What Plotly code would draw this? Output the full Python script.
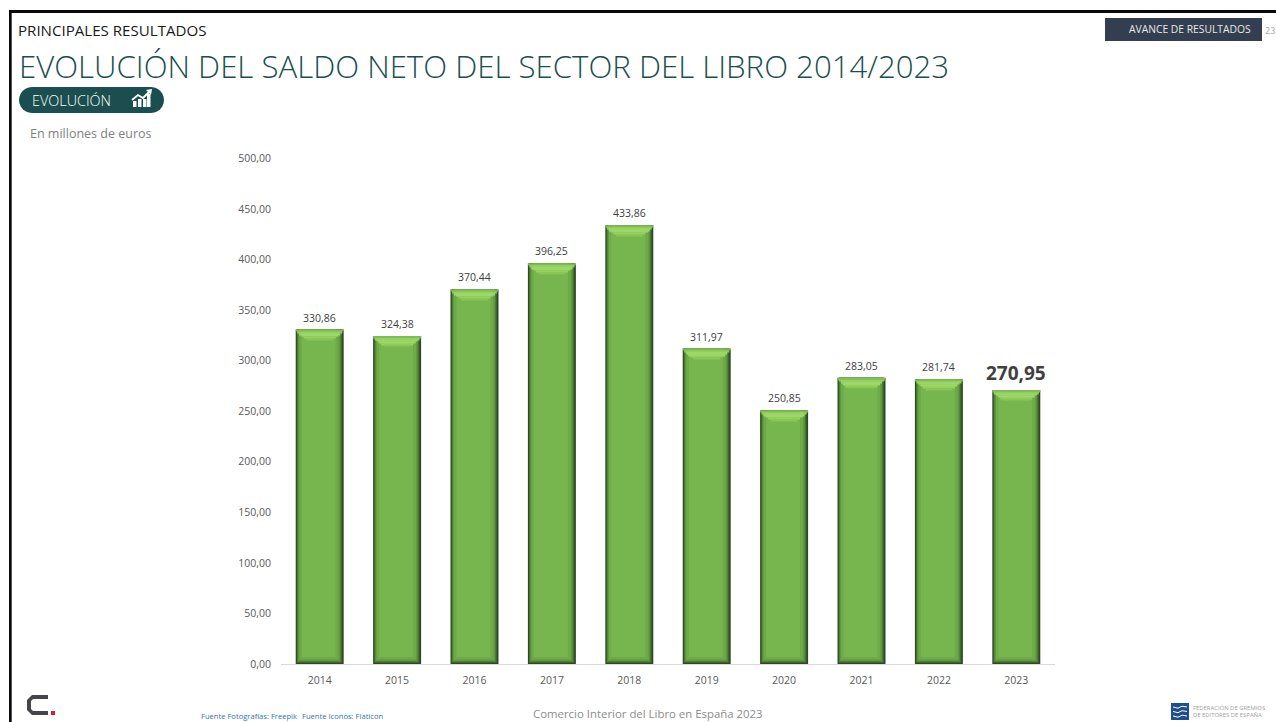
import math
import plotly.graph_objects as go

W, H = 1276, 722
years = [2014, 2015, 2016, 2017, 2018, 2019, 2020, 2021, 2022, 2023]
values = [330.86, 324.38, 370.44, 396.25, 433.86, 311.97, 250.85, 283.05, 281.74, 270.95]
labels = ["330,86", "324,38", "370,44", "396,25", "433,86", "311,97", "250,85", "283,05", "281,74", "270,95"]
y_ticks = [0, 50, 100, 150, 200, 250, 300, 350, 400, 450, 500]
y_labels = ["0,00", "50,00", "100,00", "150,00", "200,00", "250,00", "300,00", "350,00", "400,00", "450,00", "500,00"]

FONT = "Open Sans"
BAR_W = 0.62
U = 1 / 77.4  # one pixel, in category units
fig = go.Figure()


def layer(left, right, top, bottom, color):
    fig.add_trace(go.Bar(
        x=years,
        y=[max(v - top - bottom, 0) for v in values],
        base=[bottom] * len(values),
        offset=-BAR_W / 2 + left * U,
        width=BAR_W - (left + right) * U,
        marker=dict(color=color, line=dict(width=0)),
        hoverinfo="skip", showlegend=False,
    ))


# body: dark edges towards mid green (insets in px / value units)
layer(0, 0, 0, 0, "#2c4a22")
layer(1, 1.5, 0, 1, "#3d6430")
layer(1.6, 2.5, 0, 2, "#4f7f35")
layer(2.4, 3.5, 0, 3, "#62983f")
layer(3.5, 5, 0, 4.5, "#6eaa48")
layer(6, 8, 0, 7, "#77b54e")

# top bevel: stepped trapezoid, light green
steps = [(0, "#7fb855"), (1.5, "#92cd60"), (3.5, "#9cd868"), (5.5, "#9cd866"),
         (8, "#96d160"), (10.5, "#8ac558")]
for i, (inset, c) in enumerate(steps):
    top = i * 1.7
    fig.add_trace(go.Bar(
        x=years,
        y=[1.8] * len(values),
        base=[v - top - 1.8 for v in values],
        offset=-BAR_W / 2 + inset * U,
        width=BAR_W - 2 * inset * U,
        marker=dict(color=c, line=dict(width=0)),
        hoverinfo="skip", showlegend=False,
    ))

# overlay pixel axes for the slide furniture
fig.add_trace(go.Scatter(x=[None], y=[None], xaxis="x2", yaxis="y2", hoverinfo="skip", showlegend=False))


def txt(x, y, s, size, color, anchor="left", weight=400):
    fig.add_annotation(x=x, y=y, xref="x2", yref="y2", text=s, showarrow=False,
                       xanchor=anchor, yanchor="middle", align=anchor,
                       borderpad=0, borderwidth=0,
                       font=dict(family=FONT, size=size, color=color, weight=weight))


def rect(x0, y0, x1, y1, color):
    fig.add_shape(type="rect", xref="x2", yref="y2", x0=x0, x1=x1, y0=y0, y1=y1,
                  fillcolor=color, line_width=0, layer="above")


def path(points, color, width=0, fill=True):
    d = "M" + " L".join(f"{a:.2f},{b:.2f}" for a, b in points)
    if fill:
        d += " Z"
    fig.add_shape(type="path", xref="x2", yref="y2", path=d,
                  fillcolor=color if fill else "rgba(0,0,0,0)",
                  line=dict(color=color, width=width), layer="above")


# value labels, tied to the data axes
for yr, v, lab in zip(years, values, labels):
    last = yr == years[-1]
    fig.add_annotation(x=yr, y=v, xref="x", yref="y", text=lab, showarrow=False,
                       xanchor="center", yanchor="middle", yshift=17 if last else 12,
                       borderpad=0, borderwidth=0,
                       font=dict(family=FONT, size=19 if last else 10.5, color="#404040",
                                 weight=700 if last else 400))

# slide frame
rect(9, 10, 1276, 13, "#0a0a0a")
rect(9, 10, 11.7, 722, "#0a0a0a")

# header texts
txt(18, 29.5, "PRINCIPALES RESULTADOS", 15.1, "#1a1a1a")
txt(19, 65.5, "EVOLUCIÓN DEL SALDO NETO DEL SECTOR DEL LIBRO 2014/2023", 31.2, "#1b4f4f", weight=300)

# pill
pill = []
r = 13
for a in range(90, 271, 15):
    pill.append((32 + r * math.cos(math.radians(a)), 100 - r * math.sin(math.radians(a))))
for a in range(270, 451, 15):
    pill.append((151 + r * math.cos(math.radians(a)), 100 - r * math.sin(math.radians(a))))
path(pill, "#1b4f4f")
txt(32, 100, "EVOLUCIÓN", 14.4, "#ffffff", weight=300)
# chart icon
for bx, by in [(133, 101), (138, 99), (143, 99), (147, 94)]:
    rect(bx, by, bx + 3.5, 107, "#ffffff")
path([(132, 100), (138, 95), (143, 98), (150, 91)], "#ffffff", width=1.8, fill=False)
path([(146, 90), (152, 89), (151, 95)], "#ffffff")

txt(30, 133, "En millones de euros", 12.5, "#7f7f7f")

# top right banner
rect(1105, 18, 1262, 41, "#333f50")
txt(1251, 28.5, "AVANCE DE RESULTADOS", 10.3, "#e8e8e8", anchor="right")
txt(1264.5, 30, "23", 9, "#a6a6a6")

# bottom logo
path([(48, 695), (32, 695), (27, 700), (27, 710), (32, 715), (48, 715), (48, 711), (33, 711),
      (31, 709), (31, 701), (33, 699), (48, 699)], "#46464a")
rect(51, 711, 55, 715, "#d8202a")

# footer
txt(201, 716, "Fuente Fotografías: Freepik", 7.6, "#2e75b6")
txt(302, 716, "Fuente Iconos: Flaticon", 7.6, "#2e75b6")
txt(648, 713.5, "Comercio Interior del Libro en España 2023", 11.4, "#8c8c8c", anchor="center")

# federation logo
rect(1171, 703, 1189, 720, "#1f4e8c")
for yy in (707, 711.5, 716):
    path([(1173, yy), (1178, yy + 1.2), (1182, yy - 0.8), (1187, yy)], "#ffffff", width=1, fill=False)
txt(1193, 707.5, "FEDERACIÓN DE GREMIOS", 5.9, "#a0a0a0")
txt(1193, 715, "DE EDITORES DE ESPAÑA", 5.9, "#a0a0a0")

X0, X1 = 281, 1055
Y_ZERO, Y_500 = 664, 158.5
fig.update_layout(
    width=W, height=H, autosize=False,
    margin=dict(l=0, r=0, t=0, b=0),
    paper_bgcolor="#ffffff", plot_bgcolor="rgba(0,0,0,0)",
    barmode="overlay",
    showlegend=False,
    font=dict(family=FONT, color="#595959"),
    xaxis=dict(
        domain=[X0 / W, X1 / W], range=[2013.5, 2023.5], tickmode="array",
        tickvals=years, ticktext=[str(y) for y in years],
        tickfont=dict(family=FONT, size=10.5, color="#595959"), ticklabelstandoff=6,
        showgrid=False, zeroline=False, showline=True, linecolor="#d9d9d9", linewidth=1,
        ticks="", fixedrange=True, automargin=False,
    ),
    yaxis=dict(
        domain=[1 - Y_ZERO / H, 1 - Y_500 / H], range=[0, 500], tickmode="array",
        tickvals=y_ticks, ticktext=y_labels,
        tickfont=dict(family=FONT, size=10.5, color="#595959"), ticklabelstandoff=9,
        showgrid=False, zeroline=False, showline=False, ticks="",
        fixedrange=True, automargin=False,
    ),
    xaxis2=dict(domain=[0, 1], range=[0, W], visible=False, anchor="y2",
                fixedrange=True, automargin=False),
    yaxis2=dict(domain=[0, 1], range=[H, 0], visible=False, anchor="x2",
                fixedrange=True, automargin=False),
)

fig.write_html("out.html", config={"displayModeBar": False},
               post_script="document.body.style.margin='0';document.body.style.overflow='hidden';")
